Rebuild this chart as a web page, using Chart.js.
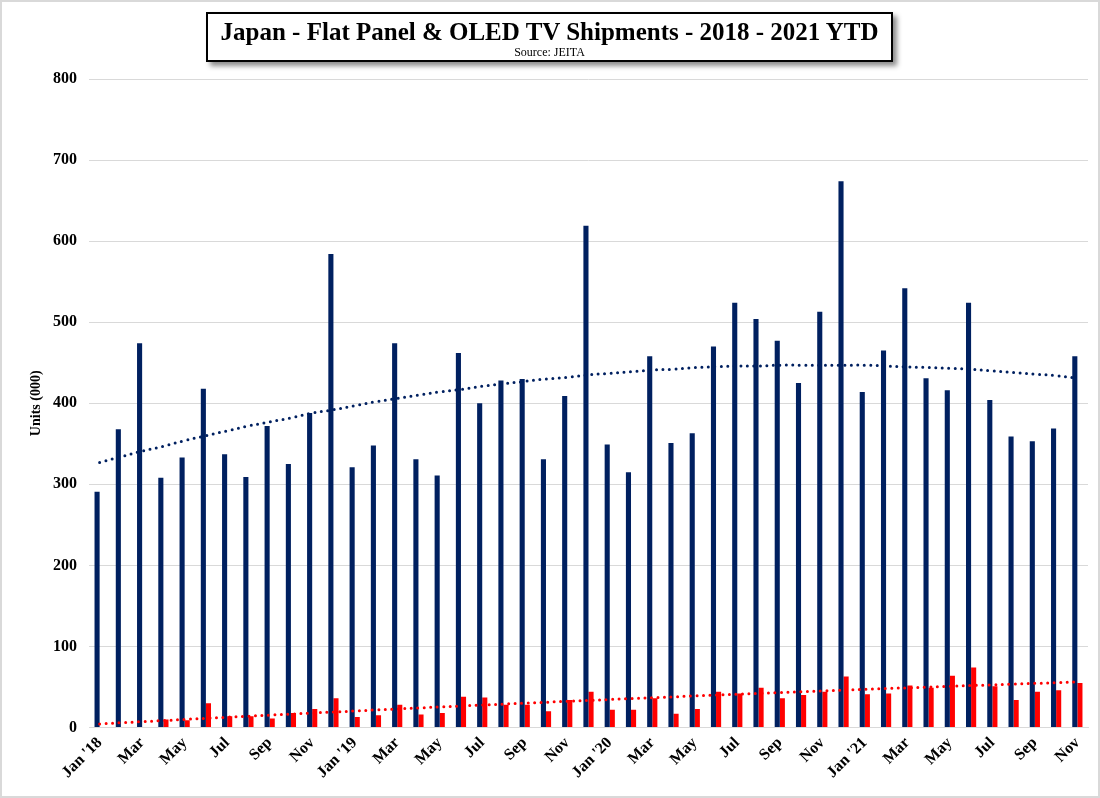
<!DOCTYPE html>
<html>
<head>
<meta charset="utf-8">
<script src="https://cdn.jsdelivr.net/npm/chart.js@4.4.1/dist/chart.umd.min.js"></script>
<style>
  html, body { margin: 0; padding: 0; background: #fff; }
  #wrap { position: relative; width: 1100px; height: 798px; box-sizing: border-box; border: 2px solid #d9d9d9; overflow: hidden; }
  #c { position: absolute; left: -2px; top: -2px; }
  #titleBox {
    position: absolute; left: 204px; top: 10px; width: 687px; height: 50px; box-sizing: border-box;
    border: 2px solid #000; background: #fff; box-shadow: 4px 4px 5px rgba(0,0,0,0.45);
    text-align: center; font-family: "Liberation Serif", "Times New Roman", serif; color: #000;
  }
  #titleBox .t { font-weight: bold; font-size: 25px; line-height: 28px; margin-top: 4px; }
  #titleBox .s { font-size: 12px; line-height: 13px; }
</style>
</head>
<body>
<div id="wrap">
  <canvas id="c" width="1100" height="798"></canvas>
  <div id="titleBox"><div class="t">Japan - Flat Panel &amp; OLED TV Shipments - 2018 - 2021 YTD</div><div class="s">Source: JEITA</div></div>
</div>
<script>
// Month labels (Jan 2018 - Nov 2021)
const monthLabels = [
  "Jan '18","Feb","Mar","Apr","May","Jun","Jul","Aug","Sep","Oct","Nov","Dec",
  "Jan '19","Feb","Mar","Apr","May","Jun","Jul","Aug","Sep","Oct","Nov","Dec",
  "Jan '20","Feb","Mar","Apr","May","Jun","Jul","Aug","Sep","Oct","Nov","Dec",
  "Jan '21","Feb","Mar","Apr","May","Jun","Jul","Aug","Sep","Oct","Nov"
];
// Flat panel TV shipments (000 units)
const flatPanel = [
  291,368,474,308,333,418,337,309,372,325,388,584,
  321,348,474,331,311,462,400,428,430,331,409,619,
  349,315,458,351,363,470,524,504,477,425,513,674,
  414,465,542,431,416,524,404,359,353,369,458
];
// OLED TV shipments (000 units)
const oled = [
  0,0,0,10,9,30,14,14,11,18,23,36,
  13,15,28,16,18,38,37,28,28,20,34,44,
  22,22,36,17,23,44,42,49,36,40,44,63,
  41,42,52,49,64,74,51,34,44,46,55
];
// Trend lines
const flatTrend = [
  327,334,341,347,354,360,366,372,377,382,388,392,
  397,402,406,410,414,417,421,424,427,430,432,435,
  437,439,441,442,444,445,446,446,447,447,447,447,
  447,446,445,444,443,442,440,438,436,434,431
];
const oledTrend = [
  4.5,5.9,7.3,8.6,10,11.4,12.7,14,15.3,16.6,17.9,19.2,
  20.4,21.7,22.9,24.2,25.4,26.6,27.8,28.9,30.1,31.2,32.4,33.5,
  34.6,35.8,36.8,37.9,39,40,41.1,42.1,43.2,44.2,45.2,46.2,
  47.1,48.1,49,50,50.9,51.8,52.7,53.6,54.5,55.4,56.2
];
const yTicks = [0,100,200,300,400,500,600,700,800];

const NAVY = '#002060';
const RED = '#ff0000';
const serif = '"Liberation Serif", "Times New Roman", serif';

new Chart(document.getElementById('c'), {
  data: {
    labels: monthLabels,
    datasets: [
      { type: 'line', label: 'Flat Panel Trend', data: flatTrend, borderColor: NAVY, borderWidth: 3,
        borderDash: [0, 6.5], borderCapStyle: 'round', pointRadius: 0, fill: false, order: 0, tension: 0.4 },
      { type: 'line', label: 'OLED Trend', data: oledTrend, borderColor: RED, borderWidth: 3,
        borderDash: [0, 6.5], borderCapStyle: 'round', pointRadius: 0, fill: false, order: 0, tension: 0.4 },
      { type: 'bar', label: 'Flat Panel', data: flatPanel, backgroundColor: NAVY, borderWidth: 0,
        categoryPercentage: 0.48, barPercentage: 1.0, order: 1 },
      { type: 'bar', label: 'OLED', data: oled, backgroundColor: RED, borderWidth: 0,
        categoryPercentage: 0.48, barPercentage: 1.0, order: 1 }
    ]
  },
  options: {
    responsive: false,
    animation: false,
    events: [],
    layout: { padding: { top: 79, left: 28, right: 12, bottom: 10 } },
    plugins: { legend: { display: false }, title: { display: false }, tooltip: { enabled: false } },
    scales: {
      x: {
        grid: { display: false, drawTicks: false },
        border: { display: true, color: '#d9d9d9', width: 1 },
        ticks: {
          autoSkip: false, minRotation: 45, maxRotation: 45, padding: 6,
          color: '#000', font: { family: serif, size: 16, weight: 'bold' },
          callback: function (v, i) { return i % 2 === 0 ? monthLabels[i] : ''; }
        }
      },
      y: {
        min: 0, max: 800,
        afterBuildTicks: (ax) => { ax.ticks = yTicks.map(v => ({ value: v })); },
        afterFit: (ax) => { ax.width = 61; },
        grid: { color: '#d9d9d9', lineWidth: 1, drawTicks: false },
        border: { display: false },
        ticks: { padding: 12, color: '#000', font: { family: serif, size: 16, weight: 'bold' } },
        title: { display: true, text: 'Units (000)', color: '#000', padding: { top: 0, bottom: 0 },
          font: { family: serif, size: 14, weight: 'bold' } }
      }
    }
  }
});
</script>
</body>
</html>
